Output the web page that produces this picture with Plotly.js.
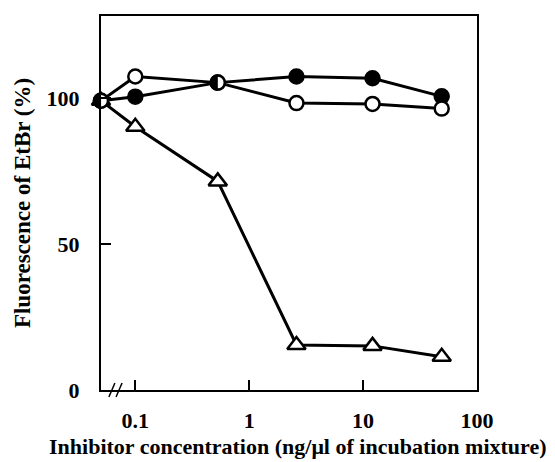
<!DOCTYPE html>
<html><head><meta charset="utf-8">
<script src="https://cdn.plot.ly/plotly-3.0.1.min.js"></script>
<style>html,body{margin:0;padding:0;background:#fff}#chart{width:555px;height:462px}</style>
</head><body><div id="chart"></div>
<script>
// Inhibitor concentration (ng/ul); first point = no inhibitor, drawn at the axis break
const concentration = [0.05, 0.1, 0.53, 2.6, 12.1, 49];
const openCircle    = [99, 107.3, 105.2, 98.2, 97.9, 96.3];
const filledCircle  = [99, 100.4, 105.2, 107.3, 106.7, 100.5];
const openTriangle  = [99, 90.1, 71.4, 15.4, 15.1, 11.4];
const xTickValues = [0.1, 1, 10, 100];
const xTickLabels = ['0.1', '1', '10', '100'];
const yTickValues = [0, 50, 100];
const yTickLabels = ['0', '50', '100'];
const xTitle = 'Inhibitor concentration (ng/\u03bcl of incubation mixture)';
const yTitle = 'Fluorescence of EtBr (%)';

const FONT = 'Liberation Serif, Times New Roman, serif';
const FS = 22;
const lineStyle = {color: '#000', width: 3};
const xRange = [Math.log10(0.05), 2];
const yRange = [0, 128];

const traces = [
  {x: concentration, y: openTriangle, mode: 'lines+markers', cliponaxis: false,
   line: lineStyle,
   marker: {symbol: 'triangle-up', size: 16, color: '#fff', line: {color: '#000', width: 2.5}}},
  {x: concentration, y: filledCircle, mode: 'lines+markers', cliponaxis: false,
   line: lineStyle,
   marker: {symbol: 'circle', size: 14, color: '#000', line: {color: '#000', width: 2.5}}},
  {x: concentration, y: openCircle, mode: 'lines+markers', cliponaxis: false,
   line: lineStyle,
   marker: {symbol: 'circle', size: 14, color: '#fff', line: {color: '#000', width: 2.5}}}
];

// half-filled marker where the open and filled circles coincide
const shapes = [];
const r = 8.2;
const pts = [];
for (let k = 0; k <= 24; k++) {
  const t = Math.PI / 2 + Math.PI * k / 24;
  pts.push((r * Math.cos(t)).toFixed(2) + ',' + (r * Math.sin(t)).toFixed(2));
}
const halfPath = 'M' + pts.join('L') + 'Z';
concentration.forEach(function (c, i) {
  if (Math.abs(openCircle[i] - filledCircle[i]) < 0.01) {
    const px = Math.max(1e-4, (Math.log10(c) - xRange[0]) / (xRange[1] - xRange[0]));
    const py = (openCircle[i] - yRange[0]) / (yRange[1] - yRange[0]);
    shapes.push({type: 'path', xref: 'paper', yref: 'paper', xsizemode: 'pixel', ysizemode: 'pixel',
      xanchor: px, yanchor: py, path: halfPath,
      fillcolor: '#000', line: {width: 0}, layer: 'above'});
  }
});
// axis break marks
[0.029, 0.048].forEach(function (px) {
  shapes.push({type: 'line', xref: 'paper', yref: 'paper', xsizemode: 'pixel', ysizemode: 'pixel',
    xanchor: px, yanchor: 1e-4, x0: -3, x1: 3, y0: -7, y1: 7,
    line: {color: '#000', width: 1.5}, layer: 'above'});
});

const layout = {
  width: 555, height: 462,
  margin: {l: 101, r: 78, t: 16, b: 72, pad: 0},
  paper_bgcolor: '#fff', plot_bgcolor: '#fff',
  showlegend: false,
  font: {family: FONT, color: '#000', size: FS, weight: 'bold'},
  xaxis: {
    type: 'log', range: xRange,
    tickvals: xTickValues, ticktext: xTickLabels,
    ticks: 'inside', ticklen: 10, tickwidth: 2, tickcolor: '#000',
    ticklabelstandoff: 10,
    showline: true, mirror: true, linewidth: 2, linecolor: '#000',
    showgrid: false, zeroline: false,
    tickfont: {family: FONT, size: FS, weight: 'bold', color: '#000'}
  },
  yaxis: {
    range: yRange,
    tickvals: yTickValues, ticktext: yTickLabels,
    ticks: 'inside', ticklen: 10, tickwidth: 2, tickcolor: '#000',
    ticklabelstandoff: 15,
    showline: true, mirror: true, linewidth: 2, linecolor: '#000',
    showgrid: false, zeroline: false,
    tickfont: {family: FONT, size: FS, weight: 'bold', color: '#000'},
    title: {text: yTitle, standoff: 10, font: {family: FONT, size: 23, weight: 'bold', color: '#000'}}
  },
  annotations: [{
    text: xTitle, xref: 'paper', yref: 'paper', x: 0.524, y: -0.152,
    xanchor: 'center', yanchor: 'middle', showarrow: false,
    font: {family: FONT, size: FS, weight: 'bold', color: '#000'}
  }],
  shapes: shapes
};

Plotly.newPlot('chart', traces, layout, {staticPlot: true, displayModeBar: false});
</script>
</body></html>
